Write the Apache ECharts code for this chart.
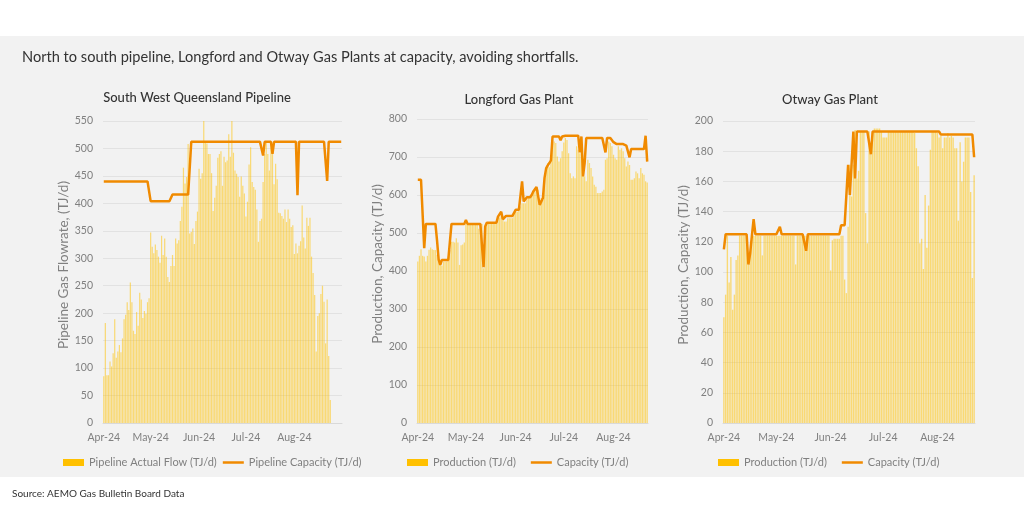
<!DOCTYPE html>
<html>
<head>
<meta charset="utf-8">
<script src="https://cdn.jsdelivr.net/npm/echarts@6.0.0/dist/echarts.min.js"></script>
<style>
  html, body { margin: 0; padding: 0; background: #fff; }
  #chart {
    width: 1024px; height: 520px;
    background: linear-gradient(to bottom, #fff 0, #fff 36px, #f2f2f2 36px, #f2f2f2 477px, #fff 477px);
  }
</style>
</head>
<body>
<div id="chart"></div>
<script>
// 月份标签
var monthLabels = { '04': 'Apr-24', '05': 'May-24', '06': 'Jun-24', '07': 'Jul-24', '08': 'Aug-24' };

function dayList(n) {
  var out = [];
  for (var i = 0; i < n; i++) {
    var d = new Date(Date.UTC(2024, 3, 1 + i));
    out.push(d.toISOString().slice(0, 10));
  }
  return out;
}
var swqDays = dayList(153);
var lgDays = dayList(144);
var otDays = dayList(144);

// South West Queensland Pipeline
var swqFlow = [
  85, 182, 87, 87, 112, 103, 127, 189, 119, 130, 142, 129, 154, 189, 197, 220, 206, 256, 220, 168,
  162, 202, 177, 237, 225, 191, 204, 199, 220, 227,
  347, 321, 309, 325, 315, 303, 292, 341, 306, 336, 303, 266, 257, 286, 306, 286, 336, 327, 333, 368,
  394, 465, 436, 448, 508, 345, 348, 354, 326, 368, 385,
  463, 445, 455, 550, 512, 509, 490, 490, 455, 386, 410, 432, 483, 490, 495, 432, 485, 475, 478, 526,
  485, 550, 492, 460, 454, 448, 412, 449, 432, 418,
  376, 403, 471, 502, 439, 430, 425, 389, 330, 368, 372, 439, 490, 512, 490, 460, 509, 490, 435, 472,
  444, 383, 382, 377, 372, 389, 366, 389, 372, 357, 360,
  308, 327, 309, 323, 331, 396, 338, 318, 374, 359, 374, 303, 273, 233, 130, 195, 200, 235, 250, 221,
  145, 225, 122, 42
];
var swqCap = [
  440, 440, 440, 440, 440, 440, 440, 440, 440, 440,
  440, 440, 440, 440, 440, 440, 440, 440, 440, 440,
  440, 440, 440, 440, 440, 440, 440, 440, 440, 440,
  404, 404, 404, 404, 404, 404, 404, 404, 404, 404,
  404, 404, 404, 404, 416, 416, 416, 416, 416, 416,
  416, 416, 416, 416, 416, 416, 512, 512, 512, 512,
  512, 512, 512, 512, 512, 512, 512, 512, 512, 512,
  512, 512, 512, 512, 512, 512, 512, 512, 512, 512,
  512, 512, 512, 512, 512, 512, 512, 512, 512, 512,
  512, 512, 512, 512, 512, 512, 512, 512, 512, 512,
  512, 512, 487, 512, 512, 512, 512, 512, 490, 512,
  512, 512, 512, 512, 512, 512, 512, 512, 512, 512,
  512, 512, 512, 512, 415, 512, 512, 512, 512, 512,
  512, 512, 512, 512, 512, 512, 512, 512, 512, 512,
  512, 512, 512, 441, 512, 512, 512, 512, 512, 512,
  512, 512, 512
];

// Longford Gas Plant
var lgProd = [
  425, 440, 457, 440, 438, 425, 440, 456, 462, 457,
  455, 455, 443, 429, 425, 414, 425, 425, 425, 438,
  455, 477, 477, 475, 486, 475, 416, 468, 470, 475,
  524, 524, 524, 524, 524, 524, 524, 524, 511, 524,
  524, 407, 517, 527, 527, 527, 527, 527, 527, 527,
  539, 541, 545, 534, 530, 530, 539, 539, 539, 539,
  552, 556, 556, 561, 570, 578, 578, 578, 589, 594,
  594, 600, 605, 614, 614, 614, 578, 592, 587, 622,
  673, 684, 673, 688, 745, 741, 737, 701, 688, 697,
  715, 738, 750, 745, 710, 657, 644, 649, 644, 728,
  719, 710, 741, 693, 649, 636, 693, 684, 671, 649,
  627, 622, 605, 605, 605, 609, 614, 693, 697, 741,
  737, 728, 706, 697, 693, 728, 719, 723, 715, 697,
  675, 688, 679, 640, 640, 644, 662, 657, 644, 671,
  657, 653, 636, 633
];
var lgCap = [
  640, 640, 640, 640, 460, 524, 524, 524, 524, 524,
  524, 524, 480, 430, 416, 429, 429, 429, 429, 429,
  429, 524, 524, 524, 524, 524, 524, 524, 524, 524,
  534, 524, 524, 524, 524, 524, 524, 524, 524, 524,
  524, 410, 517, 527, 527, 527, 527, 527, 527, 527,
  543, 548, 556, 536, 541, 545, 545, 545, 545, 545,
  545, 561, 561, 561, 561, 636, 583, 583, 594, 594,
  594, 600, 609, 615, 621, 621, 574, 574, 592, 645,
  670, 678, 684, 691, 754, 754, 754, 754, 754, 744,
  754, 756, 756, 756, 756, 756, 756, 756, 756, 756,
  756, 712, 754, 649, 684, 750, 750, 750, 750, 750,
  750, 750, 750, 750, 750, 750, 750, 712, 750, 750,
  750, 745, 739, 737, 734, 734, 734, 734, 734, 734,
  730, 725, 699, 721, 721, 721, 721, 721, 721, 721,
  721, 721, 756, 688
];

// Otway Gas Plant
var otProd = [
  70, 85, 124, 93, 110, 75, 85, 108, 111, 124,
  124, 124, 124, 124, 105, 110, 124, 124, 124, 124,
  124, 124, 111, 124, 124, 124, 124, 124, 124, 124,
  124, 124, 124, 124, 124, 124, 124, 124, 124, 124,
  124, 105, 124, 124, 124, 124, 124, 124, 124, 124,
  124, 124, 124, 124, 124, 124, 124, 124, 124, 124,
  124, 101, 121, 122, 122, 122, 122, 124, 124, 95,
  86, 130, 171, 150, 171, 194, 162, 167, 193, 193,
  193, 139, 119, 193, 178, 192, 195, 195, 195, 195,
  193, 189, 189, 189, 193, 193, 193, 193, 193, 193,
  193, 193, 193, 193, 193, 193, 193, 193, 193, 192,
  182, 170, 119, 122, 102, 151, 116, 144, 181, 193,
  193, 193, 192, 189, 190, 182, 189, 189, 192, 189,
  190, 189, 182, 182, 134, 186, 160, 173, 189, 189,
  189, 153, 96, 164
];
var otCap = [
  115, 125, 125, 125, 125, 125, 125, 125, 125, 125,
  125, 125, 125, 125, 105, 112, 124, 135, 125, 125,
  125, 125, 125, 125, 125, 125, 125, 125, 125, 125,
  125, 125, 130, 125, 125, 125, 125, 125, 125, 125,
  125, 125, 125, 125, 125, 125, 125, 114, 125, 125,
  125, 125, 125, 125, 125, 125, 125, 125, 125, 125,
  125, 125, 125, 125, 125, 125, 125, 131, 131, 131,
  131, 171, 151, 172, 193, 162, 193, 193, 193, 193,
  193, 193, 193, 193, 178, 193, 193, 193, 193, 193,
  193, 193, 193, 193, 193, 193, 193, 193, 193, 193,
  193, 193, 193, 193, 193, 193, 193, 193, 193, 193,
  193, 193, 193, 193, 193, 193, 193, 193, 193, 193,
  193, 193, 193, 193, 191, 191, 191, 191, 191, 191,
  191, 191, 191, 191, 191, 191, 191, 191, 191, 191,
  191, 191, 191, 176
];

var FONT = 'Lato, "Noto Sans", sans-serif';
var GREY = '#808080';
var BAR = 'rgba(255, 194, 0, 0.52)';
var LINE = '#F08A00';

function isMonthStart(idx, val) {
  return val.slice(8) === '01';
}

function xAxisOf(i, days) {
  return {
    gridIndex: i,
    type: 'category',
    data: days,
    axisLine: { lineStyle: { color: '#d9d9d9' } },
    axisTick: { interval: isMonthStart, length: 4, lineStyle: { color: '#d9d9d9' } },
    axisLabel: {
      interval: isMonthStart,
      color: GREY,
      fontSize: 10.5,
      margin: 9,
      formatter: function (v) { return monthLabels[v.slice(5, 7)]; }
    }
  };
}

function yAxisOf(i, max, step, name, gap) {
  return {
    gridIndex: i,
    type: 'value',
    min: 0,
    max: max,
    interval: step,
    name: name,
    nameLocation: 'middle',
    nameGap: gap,
    nameTextStyle: { color: GREY, fontSize: 13.5, padding: [0, 0, 0, 14] },
    axisLine: { show: false },
    axisTick: { show: false },
    axisLabel: { color: GREY, fontSize: 10.5, margin: 10 },
    splitLine: { lineStyle: { color: '#e2e2e2' } }
  };
}

function legendOf(left, gap, barName, lineName) {
  return {
    left: left,
    top: 457,
    padding: 0,
    itemWidth: 21,
    itemHeight: 7,
    itemGap: gap,
    textStyle: { color: GREY, fontSize: 11 },
    data: [
      { name: barName, icon: 'rect', itemStyle: { color: '#FFC000' } },
      { name: lineName, icon: 'path://M0,0H21V2.5H0Z' }
    ]
  };
}

function barOf(i, name, data) {
  return {
    type: 'bar',
    name: name,
    xAxisIndex: i,
    yAxisIndex: i,
    data: data,
    barCategoryGap: '22%',
    itemStyle: { color: BAR }
  };
}

function lineOf(i, name, data) {
  return {
    type: 'line',
    name: name,
    xAxisIndex: i,
    yAxisIndex: i,
    data: data,
    symbol: 'none',
    z: 5,
    itemStyle: { color: LINE },
    lineStyle: { color: LINE, width: 2.5 }
  };
}

var chart = echarts.init(document.getElementById('chart'));
var option = {
  animation: false,
  backgroundColor: 'transparent',
  textStyle: { fontFamily: FONT },
  title: [
    {
      text: 'North to south pipeline, Longford and Otway Gas Plants at capacity, avoiding shortfalls.',
      left: 22, top: 50, padding: 0,
      textStyle: { fontSize: 14.6, fontWeight: 'normal', color: '#333' }
    },
    {
      text: 'South West Queensland Pipeline', left: 197, top: 91, padding: 0, textAlign: 'center',
      textStyle: { fontSize: 13, fontWeight: 500, color: '#333' }
    },
    {
      text: 'Longford Gas Plant', left: 519, top: 93, padding: 0, textAlign: 'center',
      textStyle: { fontSize: 13, fontWeight: 500, color: '#333' }
    },
    {
      text: 'Otway Gas Plant', left: 830, top: 93, padding: 0, textAlign: 'center',
      textStyle: { fontSize: 13, fontWeight: 500, color: '#333' }
    }
  ],
  graphic: [{
    type: 'text',
    left: 12,
    top: 489,
    style: { text: 'Source: AEMO Gas Bulletin Board Data', fontSize: 10, fill: '#333', fontFamily: FONT }
  }],
  legend: [
    legendOf(63, 6, 'Pipeline Actual Flow (TJ/d)', 'Pipeline Capacity (TJ/d)'),
    legendOf(407, 15, 'Production (TJ/d)', 'Capacity (TJ/d)'),
    legendOf(718, 15, 'Production (TJ/d)', 'Capacity (TJ/d)')
  ],
  grid: [
    { left: 103, top: 121, width: 239, height: 302 },
    { left: 417, top: 119, width: 231, height: 304 },
    { left: 723, top: 121, width: 252, height: 302 }
  ],
  xAxis: [xAxisOf(0, swqDays), xAxisOf(1, lgDays), xAxisOf(2, otDays)],
  yAxis: [
    yAxisOf(0, 550, 50, 'Pipeline Gas Flowrate, (TJ/d)', 32),
    yAxisOf(1, 800, 100, 'Production, Capacity (TJ/d)', 32),
    yAxisOf(2, 200, 20, 'Production, Capacity (TJ/d)', 30)
  ],
  series: [
    barOf(0, 'Pipeline Actual Flow (TJ/d)', swqFlow),
    lineOf(0, 'Pipeline Capacity (TJ/d)', swqCap),
    barOf(1, 'Production (TJ/d)', lgProd),
    lineOf(1, 'Capacity (TJ/d)', lgCap),
    barOf(2, 'Production (TJ/d)', otProd),
    lineOf(2, 'Capacity (TJ/d)', otCap)
  ]
};
chart.setOption(option);
</script>
</body>
</html>
